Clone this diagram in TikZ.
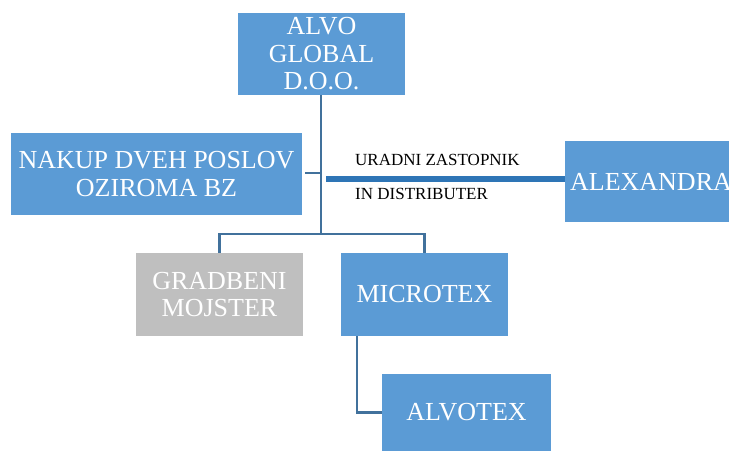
\documentclass[tikz,border=0pt]{standalone}
\usepackage{fontspec}
\setmainfont{Liberation Serif}
\definecolor{boxblue}{HTML}{5B9BD5}
\definecolor{boxgray}{HTML}{BFBFBF}
\definecolor{linkblue}{HTML}{41719C}
\definecolor{thickblue}{HTML}{2E75B6}
\tikzset{
  orgbox/.style={fill=boxblue, draw=none, inner sep=0pt, text=white, align=center,
    font=\fontsize{26}{27.5}\selectfont},
  graybox/.style={orgbox, fill=boxgray},
  link/.style={draw=linkblue, line width=2.6pt},
  thicklink/.style={draw=thickblue, line width=5.5pt},
  lbl/.style={inner sep=0pt, text=black, font=\fontsize{17}{19}\selectfont, anchor=base west}
}
\begin{document}
\begin{tikzpicture}[x=1pt,y=-1pt]
\useasboundingbox (0,0) rectangle (729,452);
\node[orgbox, minimum width=167pt, minimum height=82pt] (alvo) at (321.5,54) {ALVO\\GLOBAL\\D.O.O.};
\node[orgbox, minimum width=291pt, minimum height=82pt] (nakup) at (156.5,174) {NAKUP DVEH POSLOV\\OZIROMA BZ};
\node[orgbox, minimum width=172pt, minimum height=81pt] (alex) at (651,181.5) {ALEXANDRA};
\node[graybox, minimum width=167pt, minimum height=83pt] (grad) at (219.5,294.5) {GRADBENI\\MOJSTER};
\node[orgbox, minimum width=167pt, minimum height=83pt] (micro) at (424.5,294.5) {MICROTEX};
\node[orgbox, minimum width=169pt, minimum height=77pt] (alvotex) at (466.5,412.5) {ALVOTEX};
\coordinate (j) at (321,234);
\coordinate (n) at (305,173);
\coordinate (u) at (326,179);
\coordinate (m) at (357,336);
\draw[link] (alvo.south -| j) -- (j);
\draw[link] (grad.north) |- (j) -| (micro.north);
\draw[link] (n) -- (n -| j);
\draw[link] (m) |- (alvotex.west);
\draw[thicklink] (u) -- (u -| alex.west);
\node[lbl] (l1) at (355,165) {URADNI ZASTOPNIK};
\node[lbl] (l2) at (355,199) {IN DISTRIBUTER};
\end{tikzpicture}
\end{document}
